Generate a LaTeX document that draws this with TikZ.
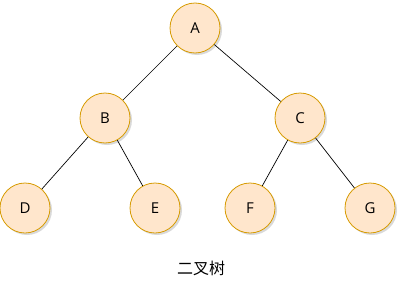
\documentclass[tikz,border=0pt]{standalone}
\usepackage{fontspec}
\setmainfont{Open Sans}
\newfontfamily\cjk{Noto Sans CJK SC}
\usetikzlibrary{shadows}
\definecolor{nfill}{HTML}{FFE6CC}
\definecolor{nline}{HTML}{D79B00}
\begin{document}
\begin{tikzpicture}[x=1pt,y=-1pt,
  tnode/.style={circle,draw=nline,fill=nfill,line width=0.8pt,minimum size=50pt,inner sep=0pt,font=\fontsize{15}{15}\selectfont,
    drop shadow={shadow xshift=2pt,shadow yshift=-2pt,opacity=0.15,fill=black}},
  edge/.style={draw=black,line width=0.7pt}]
\useasboundingbox (0,0) rectangle (407,292);
\node[tnode] (A) at (195,28) {A};
\node[tnode] (B) at (105,118) {B};
\node[tnode] (C) at (300,118) {C};
\node[tnode] (D) at (25,208) {D};
\node[tnode] (E) at (155,208) {E};
\node[tnode] (F) at (250,208) {F};
\node[tnode] (G) at (370,208) {G};
\draw[edge] (A) -- (B);
\draw[edge] (A) -- (C);
\draw[edge] (B) -- (D);
\draw[edge] (B) -- (E);
\draw[edge] (C) -- (F);
\draw[edge] (C) -- (G);
\node[font=\cjk\fontsize{16}{16}\selectfont] (t) at (201,268) {二叉树};
\end{tikzpicture}
\end{document}
